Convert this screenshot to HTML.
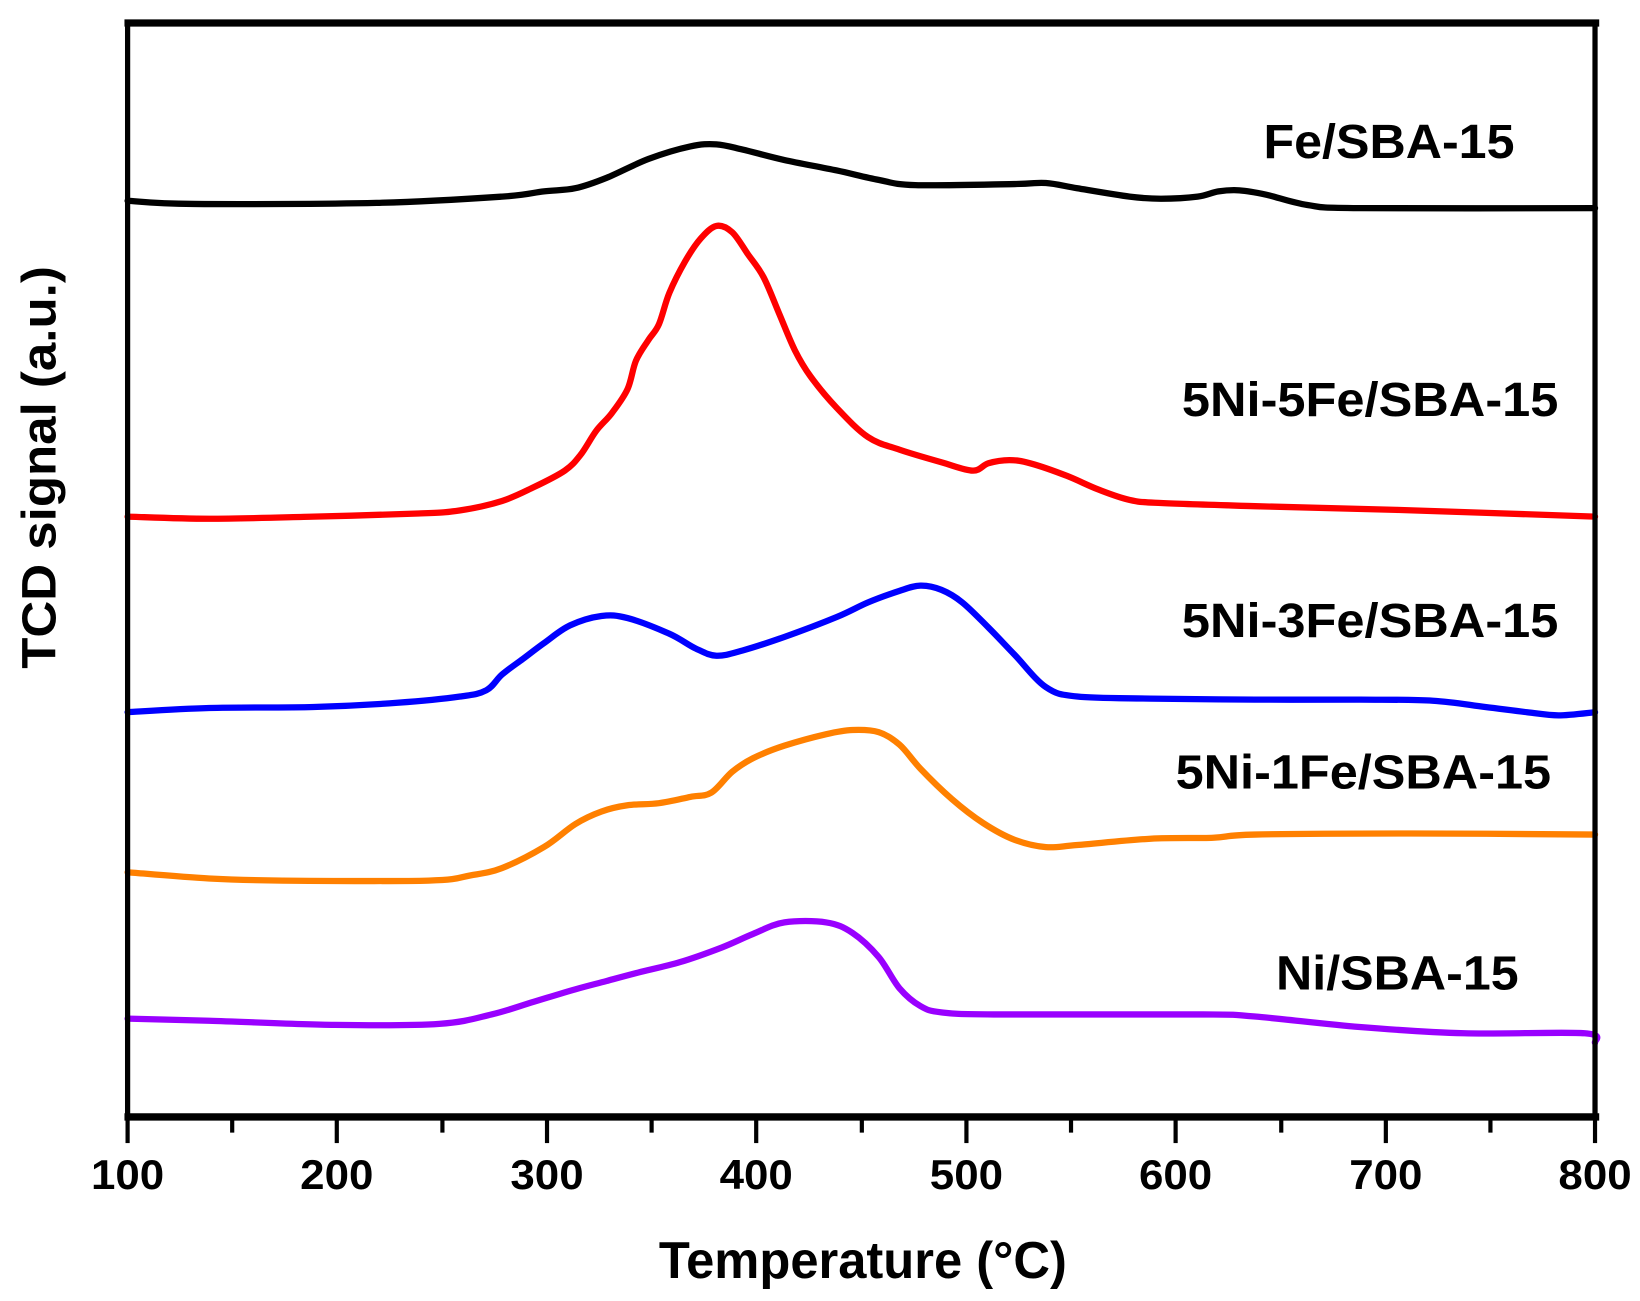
<!DOCTYPE html>
<html><head><meta charset="utf-8"><style>html,body{margin:0;padding:0;background:#fff;}svg{display:block}</style></head>
<body>
<svg id="s" width="1640" height="1301" viewBox="0 0 1568 1244" preserveAspectRatio="none" xmlns="http://www.w3.org/2000/svg" font-family="Liberation Sans, Arial, sans-serif" font-weight="bold">
<rect width="1568" height="1244" fill="#fff"/>
<g id="curves" fill="none" stroke-width="6" stroke-linejoin="round" stroke-linecap="round">
<polyline stroke="#000" points="122,192 185,195 360,194 480,188 520,183 550,180 580,170 620,152 660,140 685,138 710,143 750,153 800,163 840,172 875,177 970,176 1000,175 1030,180 1080,188 1110,190 1145,188 1165,183 1185,182 1210,186 1250,196 1300,199 1525,199"/>
<polyline stroke="#ff0000" points="122,494 200,496 300,494 400,491 440,488 480,479 510,466 540,450 555,435 570,412 585,395 600,372 608,345 620,325 630,310 640,280 655,250 670,228 685,216 700,222 715,243 730,265 745,300 760,335 775,360 800,390 830,418 860,430 900,442 930,450 945,443 965,440 985,443 1020,455 1050,468 1080,478 1110,481 1200,484 1350,488 1525,494"/>
<polyline stroke="#0000ff" points="122,681 200,677 300,676 380,672 440,666 465,660 480,645 500,630 520,615 545,598 575,589 600,591 640,606 665,620 685,627 710,622 750,609 800,590 830,576 860,565 880,560 900,564 920,576 945,600 970,626 1000,657 1030,666 1100,668 1200,669 1300,669 1370,670 1420,676 1460,681 1490,684 1525,681"/>
<polyline stroke="#ff8000" points="122,834 200,840 270,842 410,842 450,837 480,830 520,810 550,788 575,776 600,770 630,768 660,762 680,758 700,738 720,725 750,713 790,702 815,698 840,700 860,712 880,735 910,764 940,787 970,803 1000,810 1030,808 1100,802 1160,801 1200,798 1350,797 1525,798"/>
<polyline stroke="#9900ff" points="122,974 200,976 320,980 420,979 470,970 510,958 550,946 580,938 610,930 650,920 690,906 720,893 750,882 790,882 815,892 840,915 860,945 880,962 900,968 950,970 1150,970 1200,972 1300,982 1400,988 1515,988 1525,997"/>
</g>
<g stroke="#000" fill="none">
<line x1="119" y1="22" x2="1529" y2="22" stroke-width="7"/>
<line x1="119" y1="1068" x2="1529" y2="1068" stroke-width="7"/>
<line x1="122" y1="19" x2="122" y2="1071" stroke-width="5"/>
<line x1="1525" y1="19" x2="1525" y2="1071" stroke-width="5"/>
<g stroke-width="4">
<line x1="122" y1="1068" x2="122" y2="1093"/><line x1="322" y1="1068" x2="322" y2="1093"/><line x1="523" y1="1068" x2="523" y2="1093"/><line x1="723" y1="1068" x2="723" y2="1093"/><line x1="924" y1="1068" x2="924" y2="1093"/><line x1="1124" y1="1068" x2="1124" y2="1093"/><line x1="1325" y1="1068" x2="1325" y2="1093"/><line x1="1525" y1="1068" x2="1525" y2="1093"/>
<line x1="222" y1="1068" x2="222" y2="1083"/><line x1="423" y1="1068" x2="423" y2="1083"/><line x1="623" y1="1068" x2="623" y2="1083"/><line x1="824" y1="1068" x2="824" y2="1083"/><line x1="1024" y1="1068" x2="1024" y2="1083"/><line x1="1225" y1="1068" x2="1225" y2="1083"/><line x1="1425" y1="1068" x2="1425" y2="1083"/>
</g></g>
<g font-size="40" text-anchor="middle" fill="#000">
<text x="122" y="1137" textLength="70" lengthAdjust="spacingAndGlyphs">100</text>
<text x="322" y="1137" textLength="70" lengthAdjust="spacingAndGlyphs">200</text>
<text x="523" y="1137" textLength="70" lengthAdjust="spacingAndGlyphs">300</text>
<text x="723" y="1137" textLength="70" lengthAdjust="spacingAndGlyphs">400</text>
<text x="924" y="1137" textLength="70" lengthAdjust="spacingAndGlyphs">500</text>
<text x="1124" y="1137" textLength="70" lengthAdjust="spacingAndGlyphs">600</text>
<text x="1325" y="1137" textLength="70" lengthAdjust="spacingAndGlyphs">700</text>
<text x="1525" y="1137" textLength="70" lengthAdjust="spacingAndGlyphs">800</text>
</g>
<text x="825" y="1222" font-size="50" text-anchor="middle" textLength="390" lengthAdjust="spacingAndGlyphs">Temperature (°C)</text>
<text transform="translate(53,447) rotate(-90)" font-size="46" text-anchor="middle" textLength="385" lengthAdjust="spacingAndGlyphs">TCD signal (a.u.)</text>
<g font-size="46">
<text x="1208" y="151" textLength="240" lengthAdjust="spacingAndGlyphs">Fe/SBA-15</text>
<text x="1130" y="398" textLength="360" lengthAdjust="spacingAndGlyphs">5Ni-5Fe/SBA-15</text>
<text x="1130" y="609" textLength="360" lengthAdjust="spacingAndGlyphs">5Ni-3Fe/SBA-15</text>
<text x="1124" y="754" textLength="359" lengthAdjust="spacingAndGlyphs">5Ni-1Fe/SBA-15</text>
<text x="1220" y="946" textLength="232" lengthAdjust="spacingAndGlyphs">Ni/SBA-15</text>
</g>
</svg>
<script>
(function(){
var NS="http://www.w3.org/2000/svg";
var pls=document.querySelectorAll("#curves polyline");
for(var k=0;k<pls.length;k++){
 var pl=pls[k];
 var pts=pl.getAttribute("points").trim().split(/\s+/).map(function(s){var a=s.split(",");return[+a[0],+a[1]];});
 var d="M"+pts[0][0]+","+pts[0][1];
 for(var i=0;i<pts.length-1;i++){
  var p0=pts[i>0?i-1:0],p1=pts[i],p2=pts[i+1],p3=pts[i+2<pts.length?i+2:i+1];
  var c1x=p1[0]+(p2[0]-p0[0])/6,c1y=p1[1]+(p2[1]-p0[1])/6;
  var c2x=p2[0]-(p3[0]-p1[0])/6,c2y=p2[1]-(p3[1]-p1[1])/6;
  d+=" C"+c1x.toFixed(1)+","+c1y.toFixed(1)+" "+c2x.toFixed(1)+","+c2y.toFixed(1)+" "+p2[0]+","+p2[1];
 }
 var p=document.createElementNS(NS,"path");
 p.setAttribute("d",d);p.setAttribute("stroke",pl.getAttribute("stroke"));
 pl.parentNode.replaceChild(p,pl);
}
})();
</script>
</body></html>
